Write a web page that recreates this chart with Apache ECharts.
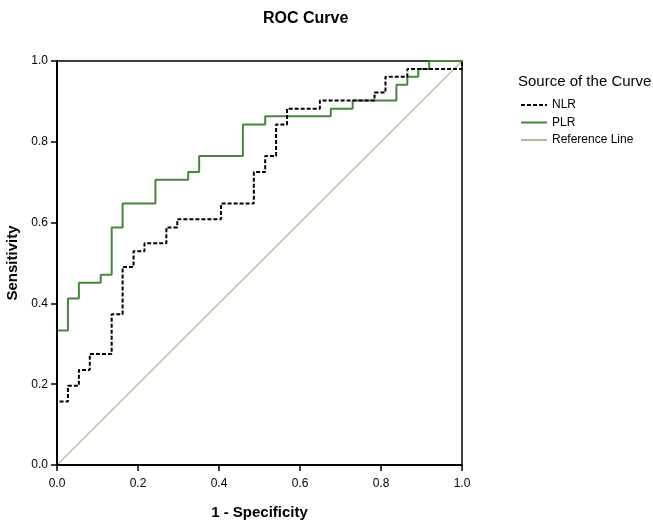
<!DOCTYPE html>
<html>
<head>
<meta charset="utf-8">
<script src="https://cdn.jsdelivr.net/npm/echarts@6/dist/echarts.min.js"></script>
<style>
  html, body { margin: 0; padding: 0; background: #fff; }
  #chart { width: 653px; height: 523px; }
</style>
</head>
<body>
<div id="chart"></div>
<script>
// ROC points (1 - Specificity, Sensitivity); curve steps horizontally then vertically
const nlrFpr = [0, 0, 0.027, 0.054, 0.081, 0.135, 0.162, 0.189, 0.216, 0.270, 0.297, 0.405, 0.486, 0.514, 0.541, 0.568, 0.649, 0.784, 0.811, 0.865, 1.0, 1.0];
const nlrTpr = [0, 0.157, 0.196, 0.235, 0.275, 0.373, 0.490, 0.529, 0.549, 0.588, 0.608, 0.647, 0.725, 0.765, 0.843, 0.882, 0.902, 0.922, 0.961, 0.980, 0.980, 1.0];
const plrFpr = [0, 0, 0.027, 0.054, 0.108, 0.135, 0.162, 0.243, 0.324, 0.351, 0.459, 0.514, 0.676, 0.730, 0.838, 0.865, 0.892, 0.919, 1.0];
const plrTpr = [0, 0.333, 0.412, 0.451, 0.471, 0.588, 0.647, 0.706, 0.725, 0.765, 0.843, 0.863, 0.882, 0.902, 0.941, 0.961, 0.980, 1.0, 1.0];
const refX = [0, 1];
const refY = [0, 1];
const tickValues = [0, 0.2, 0.4, 0.6, 0.8, 1.0];
const seriesNames = ['NLR', 'PLR', 'Reference Line'];

const zip = (xs, ys) => xs.map((x, i) => [x, ys[i]]);

const chart = echarts.init(document.getElementById('chart'), null, { renderer: 'canvas' });
const font = '"Liberation Sans", Arial, sans-serif';

const axisCommon = {
  type: 'value', min: 0, max: 1, interval: 0.2, z: 10,
  axisLine: { show: true, lineStyle: { color: '#000', width: 2 } },
  axisTick: { show: true, inside: false, length: 6, lineStyle: { color: '#000', width: 1.5 } },
  splitLine: { show: false },
  axisLabel: { color: '#000', fontSize: 12, fontFamily: font, formatter: v => v.toFixed(1) },
  nameLocation: 'middle',
  nameTextStyle: { color: '#000', fontSize: 15, fontWeight: 'bold', fontFamily: font }
};

chart.setOption({
  backgroundColor: '#fff',
  animation: false,
  title: [
    { text: 'ROC Curve', left: 258, top: 6,
      textStyle: { color: '#000', fontSize: 16, fontWeight: 'bold', fontFamily: font } },
    { text: 'Source of the Curve', left: 513, top: 69,
      textStyle: { color: '#000', fontSize: 15, fontWeight: 'normal', fontFamily: font } }
  ],
  legend: {
    data: seriesNames,
    orient: 'vertical', left: 515, top: 94,
    itemWidth: 26, itemHeight: 10, itemGap: 5.5,
    itemStyle: { opacity: 0 },
    textStyle: { color: '#000', fontSize: 12, fontFamily: font },
    selectedMode: false
  },
  grid: { left: 57, top: 61, right: 191, bottom: 58, outerBoundsMode: 'none', containLabel: false,
    show: true, borderColor: '#000', borderWidth: 1.5, backgroundColor: '#fff' },
  xAxis: Object.assign({}, axisCommon, {
    name: '1 - Specificity', nameGap: 40,
    axisLabel: Object.assign({}, axisCommon.axisLabel, { margin: 13 })
  }),
  yAxis: Object.assign({}, axisCommon, {
    name: 'Sensitivity', nameGap: 36,
    axisLabel: Object.assign({}, axisCommon.axisLabel, { margin: 9 })
  }),
  series: [
    { name: seriesNames[2], type: 'line', data: zip(refX, refY), symbol: 'none', z: 1,
      lineStyle: { color: '#bdb795', width: 1.2 }, itemStyle: { color: '#bdb795' } },
    { name: seriesNames[1], type: 'line', step: 'end', data: zip(plrFpr, plrTpr), symbol: 'none', z: 2,
      lineStyle: { color: '#44883a', width: 2 }, itemStyle: { color: '#44883a' } },
    { name: seriesNames[0], type: 'line', step: 'end', data: zip(nlrFpr, nlrTpr), symbol: 'none', z: 3,
      lineStyle: { color: '#000', width: 2, type: [4, 2] }, itemStyle: { color: '#000' } }
  ]
});
</script>
</body>
</html>
